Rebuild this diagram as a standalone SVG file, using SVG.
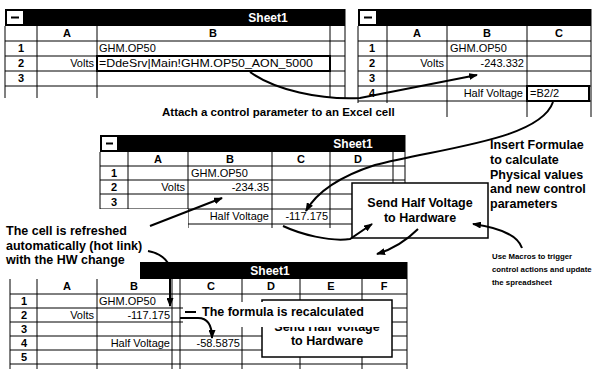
<svg xmlns="http://www.w3.org/2000/svg" width="594" height="369" viewBox="0 0 594 369">
<defs>
<marker id="ah" markerWidth="9" markerHeight="7" refX="8" refY="3.5" orient="auto" markerUnits="userSpaceOnUse"><path d="M0,0 L9,3.5 L0,7 z" fill="#000"/></marker>
<style>
.t{font-family:"Liberation Sans",Arial,sans-serif;font-size:11px;fill:#000}
.r{text-anchor:end}
.h{font-family:"Liberation Sans",Arial,sans-serif;font-size:11px;font-weight:bold;text-anchor:middle;fill:#000}
.c{font-family:"Liberation Sans",Arial,sans-serif;font-size:12.5px;font-weight:bold;fill:#000}
.n{font-size:7.8px}
.m{text-anchor:middle}
.ttl{font-family:"Liberation Sans",Arial,sans-serif;font-size:12px;font-weight:bold;fill:#fff;text-anchor:middle}
.g{stroke:#000;stroke-width:1;fill:none}
.bar{fill:#000}
.bg{fill:#fff}
.cb{fill:#fff}
.dash{stroke:#000;stroke-width:2}
.thick{fill:none;stroke:#000;stroke-width:2}
.box{fill:#fff;stroke:#000;stroke-width:1.5}
.conn{stroke:#000;stroke-width:2;fill:none;marker-end:url(#ah)}
.lead{stroke:#000;stroke-width:2;fill:none}
</style>
</defs>

<g id="sheet-top-left">
<rect class="bg" x="5" y="9" width="340" height="89"/>
<rect class="bar" x="5" y="9" width="340" height="17"/>
<rect class="cb" x="7" y="11" width="16" height="13"/>
<line class="dash" x1="11" y1="17.5" x2="19" y2="17.5"/>
<text class="ttl" x="268" y="22">Sheet1</text>
<path class="g" d="M5,26V98M37,26V98M97,26V98M330,26V98M345,9V98M5,41H345M5,56H345M5,71H345M5,86H345"/>
<text class="h" x="67" y="37">A</text>
<text class="h" x="213" y="37">B</text>
<text class="h" x="21" y="52">1</text>
<text class="h" x="21" y="67">2</text>
<text class="h" x="21" y="82">3</text>
<text class="t" x="99" y="52">GHM.OP50</text>
<text class="t r" x="94" y="67">Volts</text>
<rect class="thick" x="97" y="56" width="233" height="15"/>
<text class="t" x="99" y="67" textLength="214" lengthAdjust="spacingAndGlyphs">=DdeSrv|Main!GHM.OP50_AON_5000</text>
</g>

<g id="sheet-top-right">
<rect class="bg" x="358" y="9" width="233" height="108"/>
<rect class="bar" x="358" y="9" width="233" height="17"/>
<rect class="cb" x="360" y="11" width="16" height="13"/>
<line class="dash" x1="364" y1="17.5" x2="372" y2="17.5"/>
<path class="g" d="M358,26V117M387,26V117M447,26V117M527,26V117M591,9V117M358,41H591M358,56H591M358,71H591M358,86H591M358,101H591"/>
<text class="h" x="417" y="37">A</text>
<text class="h" x="487" y="37">B</text>
<text class="h" x="559" y="37">C</text>
<text class="h" x="372" y="52">1</text>
<text class="h" x="372" y="67">2</text>
<text class="h" x="372" y="82">3</text>
<text class="h" x="372" y="97">4</text>
<text class="t" x="450" y="52">GHM.OP50</text>
<text class="t r" x="444" y="67">Volts</text>
<text class="t r" x="524" y="67">-243.332</text>
<text class="t r" x="523" y="97">Half Voltage</text>
<rect class="thick" x="527" y="86" width="62" height="15"/>
<text class="t" x="530" y="97">=B2/2</text>
</g>

<g id="label-attach">
<rect class="bg" x="158" y="103" width="282" height="16"/>
<text class="c" x="162" y="116" style="font-size:11.5px">Attach a control parameter to an Excel cell</text>
</g>

<g id="sheet-middle">
<rect class="bg" x="100" y="135" width="305" height="93"/>
<rect class="bar" x="100" y="135" width="305" height="17"/>
<rect class="cb" x="102" y="137" width="15" height="13"/>
<line class="dash" x1="106" y1="143.5" x2="113" y2="143.5"/>
<text class="ttl" x="353" y="148">Sheet1</text>
<path class="g" d="M100,152V228M128,152V228M188,152V228M272,152V228M330,152V228M393,152V228M405,135V228M100,166H405M100,180H405M100,194H405M100,209H405M100,224H405"/>
<text class="h" x="158" y="163">A</text>
<text class="h" x="230" y="163">B</text>
<text class="h" x="301" y="163">C</text>
<text class="h" x="358" y="163">D</text>
<text class="h" x="114" y="177">1</text>
<text class="h" x="114" y="191">2</text>
<text class="h" x="114" y="205.5">3</text>
<text class="t" x="191" y="177">GHM.OP50</text>
<text class="t r" x="185" y="191">Volts</text>
<text class="t r" x="269" y="191">-234.35</text>
<text class="t r" x="269" y="220">Half Voltage</text>
<text class="t r" x="328" y="220">-117.175</text>
</g>

<g id="box-send-middle">
<rect class="box" x="352" y="183" width="136" height="55"/>
<text class="c m" x="420" y="207">Send Half Voltage</text>
<text class="c m" x="420" y="222">to Hardware</text>
</g>

<g id="note-formulae">
<text class="c" x="490" y="149">Insert Formulae</text>
<text class="c" x="490" y="164">to calculate</text>
<text class="c" x="490" y="179">Physical values</text>
<text class="c" x="490" y="193">and new control</text>
<text class="c" x="490" y="208">parameters</text>
</g>

<g id="sheet-bottom">
<rect class="bg" x="10" y="262" width="397" height="107"/>
<rect class="bar" x="10" y="262" width="397" height="17"/>
<text class="ttl" x="270" y="275">Sheet1</text>
<path class="g" d="M10,279V369M37,279V369M97,279V369M172,279V369M180,279V369M242,279V369M300,279V369M362,279V369M407,262V369M10,294H407M10,308H407M10,322H407M10,336H407M10,350H407M10,364H407"/>
<text class="h" x="67" y="290">A</text>
<text class="h" x="134" y="290">B</text>
<text class="h" x="211" y="290">C</text>
<text class="h" x="271" y="290">D</text>
<text class="h" x="331" y="290">E</text>
<text class="h" x="384" y="290">F</text>
<text class="h" x="24" y="305">1</text>
<text class="h" x="24" y="319">2</text>
<text class="h" x="24" y="333">3</text>
<text class="h" x="24" y="347">4</text>
<text class="h" x="24" y="361">5</text>
<text class="t" x="99" y="305">GHM.OP50</text>
<text class="t r" x="94" y="319">Volts</text>
<text class="t r" x="170" y="319">-117.175</text>
<text class="t r" x="170" y="347">Half Voltage</text>
<text class="t r" x="240" y="347">-58.5875</text>
</g>

<g id="box-send-bottom">
<rect class="box" x="262" y="300" width="130" height="57"/>
<text class="c m" x="327" y="331">Send Half Voltage</text>
<text class="c m" x="327" y="345">to Hardware</text>
</g>

<g id="note-recalculated">
<rect class="bg" x="183" y="302" width="207" height="25"/>
<line class="lead" x1="185" y1="312" x2="196" y2="312"/>
<text class="c" x="202" y="316">The formula is recalculated</text>
</g>

<g id="note-refreshed">
<path class="bg" d="M0,209H188V262H140V279H0Z"/>
<text class="c" x="6" y="235">The cell is refreshed</text>
<text class="c" x="6" y="250">automatically (hot link)</text>
<text class="c" x="6" y="264">with the HW change</text>
</g>

<g id="note-macros">
<text class="c n" x="492" y="259">Use Macros to trigger</text>
<text class="c n" x="492" y="272">control actions and update</text>
<text class="c n" x="492" y="285">the spreadsheet</text>
</g>

<g id="connectors">
<path class="conn" d="M250,72 C275,90 320,100 360,98 L477,75"/>
<path class="conn" d="M553,102 C540,140 440,148 375,165 C335,178 315,195 306,211"/>
<path class="conn" d="M150,226 L222,198"/>
<path class="conn" d="M148,251 C160,253 168,260 170,268 L170,306"/>
<path class="conn" d="M283,226 C300,234 330,242 350,239 L372,224"/>
<path class="conn" d="M418,229 Q400,247 377,254"/>
<path class="conn" d="M522,248 Q516,230 473,224"/>
<path class="conn" d="M180,318 L198,318 C208,318 212,326 212,338"/>
</g>
</svg>
